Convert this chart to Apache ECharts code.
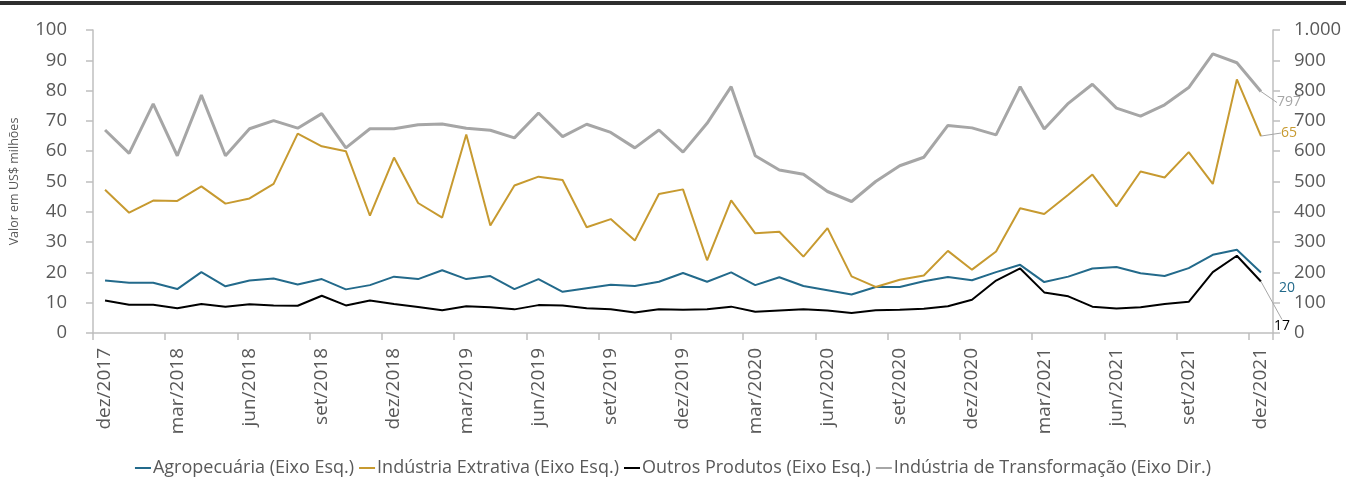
<!DOCTYPE html>
<html>
<head>
<meta charset="utf-8">
<script src="https://cdn.jsdelivr.net/npm/echarts@6/dist/echarts.min.js"></script>
<style>
  html, body { margin: 0; padding: 0; background: #fff; }
  #wrap { position: relative; width: 1346px; height: 477px; }
  #topbar { position: absolute; left: 0; top: 1px; width: 1346px; height: 4px; background: #2e2e2e; z-index: 2; }
  #chart { position: absolute; left: 0; top: 0; width: 1346px; height: 477px; }
</style>
</head>
<body>
<div id="wrap">
  <div id="topbar"></div>
  <div id="chart"></div>
</div>
<script>
// Monthly exports, dez/2017 .. dez/2021
const monthNames = ['jan', 'fev', 'mar', 'abr', 'mai', 'jun', 'jul', 'ago', 'set', 'out', 'nov', 'dez'];
const startYear = 2017, startMonth = 11, monthCount = 49;
const categories = [];
for (let k = 0; k < monthCount; k++) {
  const m = (startMonth + k) % 12;
  const y = startYear + Math.floor((startMonth + k) / 12);
  categories.push(monthNames[m] + '/' + y);
}

const seriesNames = [
  'Agropecuária (Eixo Esq.)',
  'Indústria Extrativa (Eixo Esq.)',
  'Outros Produtos (Eixo Esq.)',
  'Indústria de Transformação (Eixo Dir.)'
];

const agropecuaria = [
  17.3, 16.6, 16.6, 14.5, 20.1, 15.4, 17.3, 18.0, 16.0, 17.8, 14.4, 15.8,
  18.6, 17.8, 20.7, 17.8, 18.8, 14.5, 17.8, 13.6, 14.8, 15.9, 15.5, 16.9, 19.8,
  16.9, 20.0, 15.8, 18.4, 15.5, 14.1, 12.7, 15.2, 15.2, 17.1, 18.5, 17.4,
  20.1, 22.5, 16.8, 18.6, 21.3, 21.8, 19.7, 18.8, 21.4, 25.8, 27.5, 20
];
const extrativa = [
  47.3, 39.7, 43.7, 43.6, 48.4, 42.7, 44.4, 49.2, 65.8, 61.6, 60.0, 38.7,
  57.9, 42.9, 38.1, 65.5, 35.5, 48.7, 51.6, 50.5, 34.9, 37.6, 30.5, 45.9, 47.4,
  24.0, 43.8, 32.9, 33.4, 25.2, 34.6, 18.7, 15.2, 17.6, 19.0, 27.1, 20.9,
  26.9, 41.2, 39.3, 45.6, 52.3, 41.8, 53.3, 51.3, 59.7, 49.2, 83.7, 65
];
const outros = [
  10.7, 9.3, 9.3, 8.2, 9.6, 8.7, 9.5, 9.1, 9.0, 12.3, 9.1, 10.7,
  9.6, 8.6, 7.5, 8.8, 8.5, 7.8, 9.2, 9.1, 8.2, 7.8, 6.8, 7.8, 7.7,
  7.8, 8.7, 7.0, 7.4, 7.8, 7.4, 6.6, 7.5, 7.7, 8.0, 8.8, 11.0,
  17.3, 21.3, 13.4, 12.1, 8.7, 8.1, 8.5, 9.6, 10.3, 20.1, 25.5, 17
];
const transformacao = [
  670, 593, 756, 585, 785, 585, 674, 701, 676, 724, 611, 674,
  674, 687, 690, 676, 669, 644, 726, 648, 689, 662, 611, 670, 597,
  692, 813, 585, 538, 524, 467, 434, 500, 552, 580, 685, 677,
  654, 813, 673, 758, 821, 742, 716, 753, 810, 921, 892, 797
];

const colors = ['#236A8B', '#C79A30', '#000000', '#A6A6A6'];
const FONT = '"Open Sans", "Noto Sans", sans-serif';
const textGray = '#595959';
const axisGray = '#BFBFBF';

function thousands(v) {
  return String(v).replace(/\B(?=(\d{3})+(?!\d))/g, '.');
}

// only the final month carries a value label
function withEndLabel(values) {
  return values.map((v, i) => i === values.length - 1
    ? { value: v, label: { show: true } }
    : v);
}

function lineSeries(idx, values, yAxisIndex, width, layout, guide) {
  return {
    name: seriesNames[idx],
    type: 'line',
    yAxisIndex: yAxisIndex,
    data: withEndLabel(values),
    symbol: 'circle',
    symbolSize: 0.01,
    showSymbol: true,
    smooth: false,
    silent: true,
    lineStyle: { color: colors[idx], width: width },
    itemStyle: { color: colors[idx] },
    label: {
      show: false,
      position: 'right',
      distance: 0,
      fontFamily: FONT,
      fontSize: 14,
      color: colors[idx],
      formatter: p => String(Math.round(p.value))
    },
    labelLayout: layout,
    labelLine: guide
      ? { show: true, lineStyle: { color: '#A6A6A6', width: 1 }, length2: 0 }
      : { show: false },
    z: idx === 3 ? 1 : 3
  };
}

const chart = echarts.init(document.getElementById('chart'), null, { renderer: 'canvas' });

chart.setOption({
  animation: false,
  color: colors,
  textStyle: { fontFamily: FONT },
  grid: { left: 90, right: 73, top: 30, bottom: 144, containLabel: false },
  legend: {
    top: 454,
    left: 'center',
    icon: 'rect',
    itemWidth: 16,
    itemHeight: 2,
    itemGap: 5,
    textStyle: { fontFamily: FONT, fontSize: 18, color: textGray, padding: [0, 0, 0, -3] },
    data: seriesNames
  },
  xAxis: {
    type: 'category',
    data: categories,
    boundaryGap: true,
    axisLine: { lineStyle: { color: axisGray, width: 1.5 } },
    axisTick: {
      show: true,
      length: 7,
      interval: i => i % 3 === 0,
      lineStyle: { color: axisGray, width: 1.5 }
    },
    axisLabel: {
      interval: i => i % 3 === 0,
      rotate: 90,
      margin: 15,
      fontFamily: FONT,
      fontSize: 19,
      color: textGray
    }
  },
  yAxis: [
    {
      type: 'value',
      min: 0,
      max: 100,
      interval: 10,
      name: 'Valor em US$ milhões',
      nameLocation: 'middle',
      nameRotate: 90,
      nameGap: 72,
      nameTextStyle: { fontFamily: FONT, fontSize: 12.5, color: textGray },
      splitLine: { show: false },
      axisLine: { show: true, lineStyle: { color: axisGray, width: 1.5 } },
      axisTick: { show: true, length: 7, lineStyle: { color: axisGray, width: 1.5 } },
      axisLabel: { margin: 26, fontFamily: FONT, fontSize: 18.5, color: textGray }
    },
    {
      type: 'value',
      min: 0,
      max: 1000,
      interval: 100,
      position: 'right',
      splitLine: { show: false },
      axisLine: { show: true, lineStyle: { color: axisGray, width: 1.5 } },
      axisTick: { show: true, length: 7, lineStyle: { color: axisGray, width: 1.5 } },
      axisLabel: {
        margin: 21,
        fontFamily: FONT,
        fontSize: 18.5,
        color: textGray,
        formatter: v => thousands(v)
      }
    }
  ],
  series: [
    lineSeries(3, transformacao, 1, 3, { dx: 16, dy: 11 }, true),
    lineSeries(0, agropecuaria, 0, 2, { dx: 18, dy: 16 }, false),
    lineSeries(1, extrativa, 0, 2, { dx: 20, dy: -3 }, true),
    lineSeries(2, outros, 0, 2, { dx: 13, dy: 45 }, true)
  ]
});
</script>
</body>
</html>
